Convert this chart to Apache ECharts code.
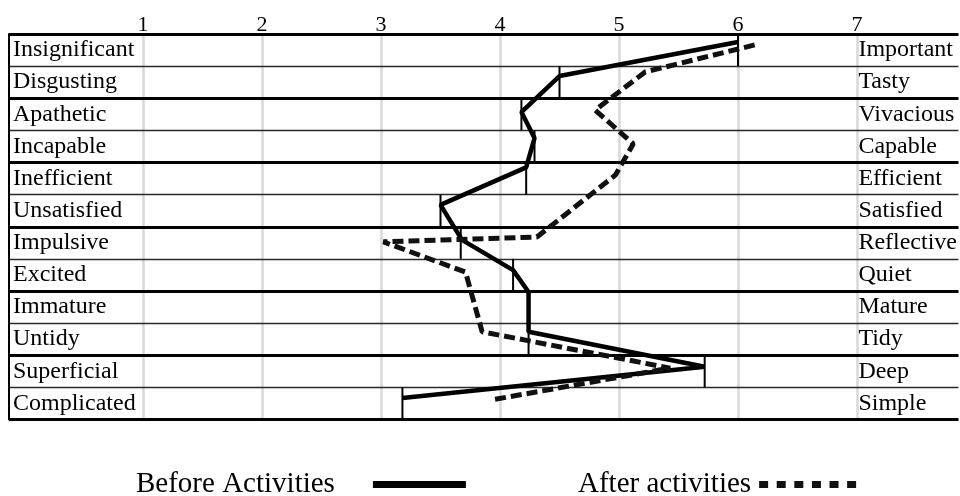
<!DOCTYPE html>
<html>
<head>
<meta charset="utf-8">
<script src="https://cdn.jsdelivr.net/npm/echarts@6/dist/echarts.min.js"></script>
<style>
html,body{margin:0;padding:0;background:#fff;}
#chart{width:960px;height:496px;}
</style>
</head>
<body>
<div id="chart"></div>
<script>
// ---- data ----
const leftLabels = ['Insignificant','Disgusting','Apathetic','Incapable','Inefficient','Unsatisfied','Impulsive','Excited','Immature','Untidy','Superficial','Complicated'];
const rightLabels = ['Important','Tasty','Vivacious','Capable','Efficient','Satisfied','Reflective','Quiet','Mature','Tidy','Deep','Simple'];
const tickValues = [1, 2, 3, 4, 5, 6, 7];

// per-row mean marks (before)
const beforeMeans = [6.0, 4.50, 4.18, 4.29, 4.22, 3.50, 3.67, 4.11, 4.24, 4.24, 5.72, 3.18];
// before polyline: value and vertical position (row units, 0 = top of table)
const beforeValues = [6.0, 4.50, 4.18, 4.29, 4.22, 3.50, 3.68, 4.11, 4.24, 4.24, 5.72, 3.18];
const beforeRows   = [0.25, 1.31, 2.43, 3.24, 4.15, 5.32, 6.41, 7.35, 8.03, 9.27, 10.36, 11.33];
// after polyline
const afterValues = [6.14, 5.22, 4.80, 5.12, 4.97, 4.31, 3.02, 3.71, 3.85, 5.43, 3.93];
const afterRows   = [0.34, 1.18, 2.37, 3.42, 4.39, 6.32, 6.47, 7.41, 9.27, 10.40, 11.39];

const SERIF = 'Liberation Serif';
const rowCount = leftLabels.length;

const chart = echarts.init(document.getElementById('chart'), null, {renderer: 'canvas'});
chart.setOption({
  backgroundColor: '#fff',
  animation: false,
  grid: [
    {left: 143, right: 103, top: 34, bottom: 76.5},
    {left: 9, right: -2, top: 34, bottom: 76.5}
  ],
  xAxis: [
    {
      gridIndex: 0, type: 'value', position: 'top', min: 1, max: 7, interval: 1,
      axisLine: {show: false}, axisTick: {show: false},
      axisLabel: {color: '#000', fontFamily: SERIF, fontSize: 22, margin: -2,
        formatter: v => tickValues.indexOf(v) >= 0 ? String(v) : ''},
      splitLine: {show: true, lineStyle: {color: '#d9d9d9', width: 2.5}},
      z: 0
    },
    {gridIndex: 1, type: 'value', min: 0, max: 1, show: false}
  ],
  yAxis: [
    {gridIndex: 0, type: 'value', min: 0, max: rowCount, inverse: true, show: false},
    {
      gridIndex: 1, type: 'category', data: leftLabels, inverse: true, position: 'left',
      axisLine: {show: true, lineStyle: {color: '#000', width: 2}},
      axisTick: {show: false},
      axisLabel: {inside: true, interval: 0, margin: 4, color: '#000', fontFamily: SERIF, fontSize: 24, align: 'left', padding: [3, 0, 0, 0]},
      splitLine: {show: false}, z: 1
    },
    {
      gridIndex: 1, type: 'category', data: rightLabels, inverse: true, position: 'right',
      axisLine: {show: false}, axisTick: {show: false},
      axisLabel: {inside: true, interval: 0, margin: 100, color: '#000', fontFamily: SERIF, fontSize: 24, align: 'left', padding: [3, 0, 0, 0]},
      splitLine: {show: false}, z: 1
    },
    {
      gridIndex: 1, type: 'value', min: 0, max: rowCount, interval: 1, inverse: true, position: 'left',
      axisLine: {show: false}, axisTick: {show: false}, axisLabel: {show: false},
      splitLine: {show: true, lineStyle: {color: '#2a2a2a', width: 1.4}}, z: 1
    },
    {
      gridIndex: 1, type: 'value', min: 0, max: rowCount, interval: 2, inverse: true, position: 'left',
      axisLine: {show: false}, axisTick: {show: false}, axisLabel: {show: false},
      splitLine: {show: true, lineStyle: {color: '#000', width: 3}}, z: 1
    }
  ],
  legend: [
    {
      data: [{name: 'Before Activities', icon: 'rect'}],
      left: 131, top: 465, align: 'right', itemWidth: 93, itemHeight: 7,
      textStyle: {color: '#000', fontFamily: SERIF, fontSize: 29, padding: [0, 33, 0, 0]}
    },
    {
      data: [{name: 'After activities', icon: 'path://M0,0H9V7H0ZM17.6,0H26.6V7H17.6ZM35.2,0H44.2V7H35.2ZM52.8,0H61.8V7H52.8ZM70.4,0H79.4V7H70.4ZM88,0H97V7H88Z'}],
      left: 573, top: 465, align: 'right', itemWidth: 97, itemHeight: 7,
      textStyle: {color: '#000', fontFamily: SERIF, fontSize: 29, padding: [0, 3, 0, 0]}
    }
  ],
  series: [
    {
      name: 'Before means', type: 'custom', xAxisIndex: 0, yAxisIndex: 0, z: 3,
      data: beforeMeans.map((v, i) => [v, i]),
      renderItem: (params, api) => {
        const v = api.value(0), r = api.value(1);
        const p1 = api.coord([v, r]);
        const p2 = api.coord([v, r + 1]);
        return {type: 'line', shape: {x1: p1[0], y1: p1[1], x2: p2[0], y2: p2[1]},
          style: {stroke: '#000', lineWidth: 2}};
      }
    },
    {
      name: 'Before Activities', type: 'line', xAxisIndex: 0, yAxisIndex: 0, z: 4,
      data: beforeValues.map((v, i) => [v, beforeRows[i]]),
      symbol: 'none', color: '#000',
      lineStyle: {color: '#000', width: 4.5, join: 'bevel'}
    },
    {
      name: 'After activities', type: 'line', xAxisIndex: 0, yAxisIndex: 0, z: 4,
      data: afterValues.map((v, i) => [v, afterRows[i]]),
      symbol: 'none', color: '#111',
      lineStyle: {color: '#111', width: 5, type: [11, 5], join: 'bevel'}
    }
  ]
});
</script>
</body>
</html>
